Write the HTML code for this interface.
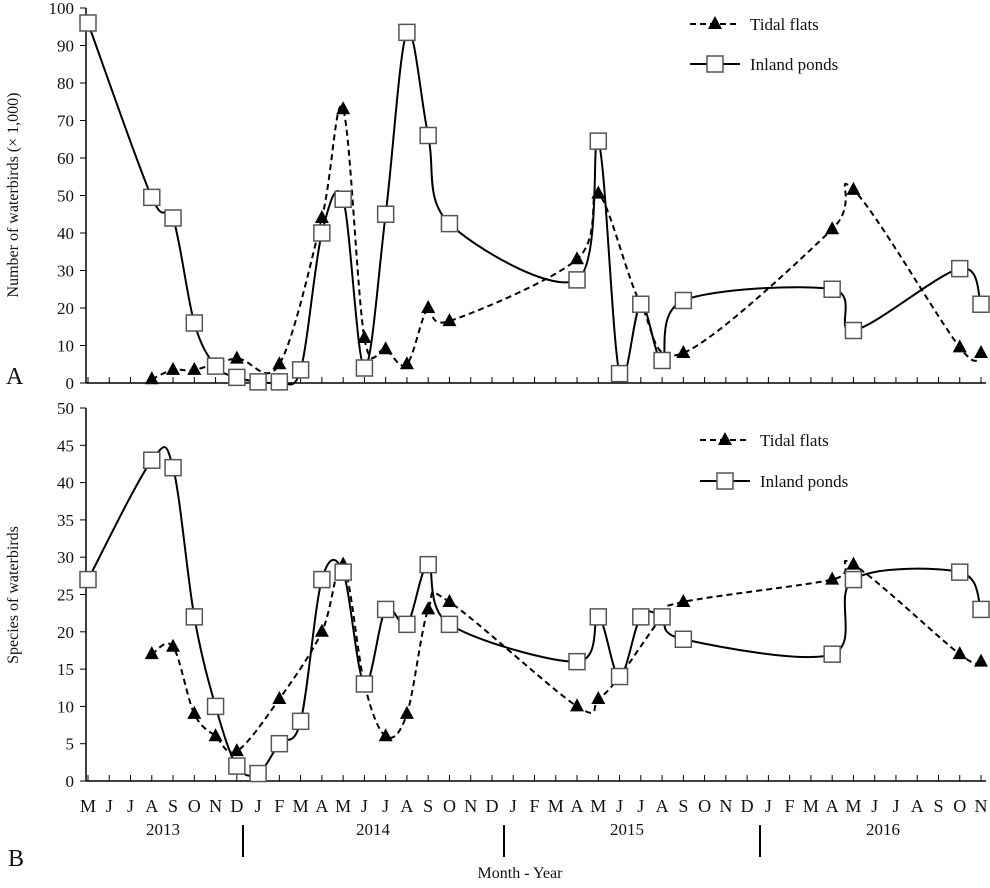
<!DOCTYPE html>
<html><head><meta charset="utf-8"><style>
html,body{margin:0;padding:0;background:#fff}
svg text{font-family:"Liberation Serif",serif;fill:#111}
</style></head><body>
<svg id="c" width="990" height="883" viewBox="0 0 990 883" xmlns="http://www.w3.org/2000/svg"></svg>
<script>
const months=["M","J","J","A","S","O","N","D","J","F","M","A","M","J","J","A","S","O","N","D","J","F","M","A","M","J","J","A","S","O","N","D","J","F","M","A","M","J","J","A","S","O","N"];
const years=["2013","2014","2015","2016"];
const topTicks=[0,10,20,30,40,50,60,70,80,90,100];
const botTicks=[0,5,10,15,20,25,30,35,40,45,50];
// month index from May 2013
const topTidalX=[3,4,5,7,9,11,12,13,14,15,16,17,23,24,26,28,35,36,41,42];
const topTidalY=[1,3.5,3.5,6.5,5,44,73,12,9,5,20,16.5,33,50.5,21,8,41,51.5,9.5,8];
const topPondX=[0,3,4,5,6,7,8,9,10,11,12,13,14,15,16,17,23,24,25,26,27,28,35,36,41,42];
const topPondY=[96,49.5,44,16,4.5,1.5,0.3,0.3,3.5,40,49,4,45,93.5,66,42.5,27.5,64.5,2.5,21,6,22,25,14,30.5,21];
const botTidalX=[3,4,5,6,7,9,11,12,13,14,15,16,17,23,24,25,27,28,35,36,41,42];
const botTidalY=[17,18,9,6,4,11,20,29,13,6,9,23,24,10,11,14,22,24,27,29,17,16];
const botPondX=[0,3,4,5,6,7,8,9,10,11,12,13,14,15,16,17,23,24,25,26,27,28,35,36,41,42];
const botPondY=[27,43,42,22,10,2,1,5,8,27,28,13,23,21,29,21,16,22,14,22,22,19,17,27,28,23];

const svg=document.getElementById('c');const NS="http://www.w3.org/2000/svg";
function mk(t,a,p){const e=document.createElementNS(NS,t);for(const k in a)e.setAttribute(k,a[k]);(p||svg).appendChild(e);return e;}
const X0=88,XS=(981-88)/42;
const xs=i=>X0+i*XS;
function axisY(y0,yTop,max){return v=>y0-(y0-yTop)*v/max;}
const yTop=axisY(383,8,100), yBot=axisY(781,408,50);

function smooth(pts){let d=`M${pts[0][0]},${pts[0][1]}`;for(let i=0;i<pts.length-1;i++){const p0=pts[i-1]||pts[i],p1=pts[i],p2=pts[i+1],p3=pts[i+2]||p2;const t=6;
d+=` C${p1[0]+(p2[0]-p0[0])/t},${p1[1]+(p2[1]-p0[1])/t} ${p2[0]-(p3[0]-p1[0])/t},${p2[1]-(p3[1]-p1[1])/t} ${p2[0]},${p2[1]}`;}return d;}
function tri(x,y,g){return mk('polygon',{points:`${x},${y-8} ${x-7},${y+5} ${x+7},${y+5}`,fill:'#000'},g);}
function sq(x,y,g){return mk('rect',{x:x-8,y:y-8,width:16,height:16,fill:'#fff',stroke:'#555','stroke-width':1.5},g);}

function panel(name,y0,y1,ticks,ys,tX,tY,pX,pY,ylab,ylabY,legY1,legY2,legX){
  const g=mk('g',{});
  const ax=mk('line',{x1:86,y1:y0,x2:986,y2:y0,stroke:'#000','stroke-width':1.5},g);
  const ay=mk('line',{x1:86,y1:y0,x2:86,y2:y1,stroke:'#000','stroke-width':1.5},g);
  ticks.forEach(v=>{const y=ys(v);mk('line',{x1:80,y1:y,x2:86,y2:y,stroke:'#000'},g);const t=mk('text',{x:74,y:y+6,'text-anchor':'end','font-size':17},g);t.textContent=v;});
  months.forEach((m,i)=>{mk('line',{x1:xs(i),y1:y0-6,x2:xs(i),y2:y0,stroke:'#000'},g);});
  const yl=mk('text',{x:18,y:ylabY,transform:`rotate(-90 18 ${ylabY})`,'text-anchor':'middle','font-size':16},g);yl.textContent=ylab;
  const pp=pX.map((x,i)=>[xs(x),ys(pY[i])]),tp=tX.map((x,i)=>[xs(x),ys(tY[i])]);
  const l1=mk('path',{d:smooth(tp),fill:'none',stroke:'#000','stroke-width':2,'stroke-dasharray':'6,4'},g);
  const l2=mk('path',{d:smooth(pp),fill:'none',stroke:'#000','stroke-width':2},g);
  tp.forEach(p=>{const e=tri(p[0],p[1],g);});
  pp.forEach(p=>{const e=sq(p[0],p[1],g);});
  const lg=mk('g',{},g);
  mk('line',{x1:legX,y1:legY1,x2:legX+50,y2:legY1,stroke:'#000','stroke-width':2,'stroke-dasharray':'6,4'},lg);tri(legX+25,legY1,lg);
  let t=mk('text',{x:legX+60,y:legY1+6,'font-size':17},lg);t.textContent='Tidal flats';
  mk('line',{x1:legX,y1:legY2,x2:legX+50,y2:legY2,stroke:'#000','stroke-width':2},lg);sq(legX+25,legY2,lg);
  t=mk('text',{x:legX+60,y:legY2+6,'font-size':17},lg);t.textContent='Inland ponds';
}
panel('top',383,8,topTicks,yTop,topTidalX,topTidalY,topPondX,topPondY,'Number of waterbirds (× 1,000)',195,24,64,690);
panel('bottom',781,408,botTicks,yBot,botTidalX,botTidalY,botPondX,botPondY,'Species of waterbirds',595,440,481,700);
months.forEach((m,i)=>{const t=mk('text',{x:xs(i),y:812,'text-anchor':'middle','font-size':18});t.textContent=m;

});
const yx=[163,373,627,883];
years.forEach((y,i)=>{const t=mk('text',{x:yx[i],y:835,'text-anchor':'middle','font-size':17});t.textContent=y;

});
[243,504,760].forEach(x=>{const l=mk('line',{x1:x,y1:825,x2:x,y2:857,stroke:'#000','stroke-width':2});

});
let t=mk('text',{x:520,y:878,'text-anchor':'middle','font-size':16});t.textContent='Month  - Year';


t=mk('text',{x:6,y:384,'font-size':24});t.textContent='A';


t=mk('text',{x:8,y:866,'font-size':24});t.textContent='B';


</script>
</body></html>
